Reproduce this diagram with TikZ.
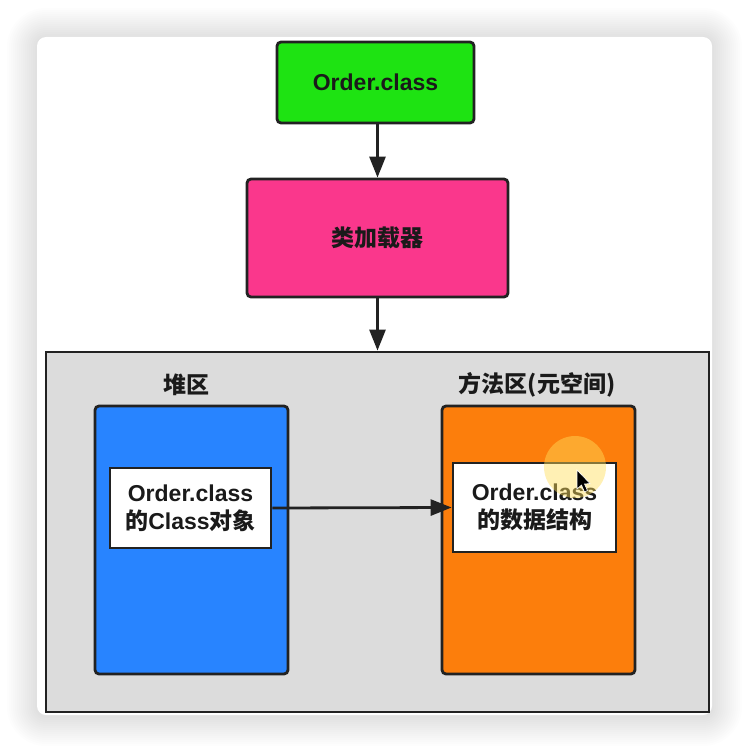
\documentclass[tikz,border=0pt]{standalone}
\usepackage{fontspec}
\setmainfont{Liberation Sans}
\newfontfamily\cjk{Noto Sans CJK SC}
\usetikzlibrary{arrows.meta}
\definecolor{cgreen}{RGB}{30,227,18}
\definecolor{cpink}{RGB}{250,55,140}
\definecolor{cgray}{RGB}{220,220,220}
\definecolor{cblue}{RGB}{40,132,255}
\definecolor{corange}{RGB}{252,126,12}
\definecolor{cline}{RGB}{34,34,34}
\definecolor{ctext}{RGB}{26,26,26}
\definecolor{chl}{RGB}{255,222,90}
\tikzset{
  lbl/.style={font=\fontsize{23}{28}\selectfont\bfseries, text=ctext, align=center, inner sep=0pt},
  box/.style={draw=cline, line width=2.8pt, rounded corners=4pt, inner sep=0pt, lbl},
  wbox/.style={draw=cline, line width=2.8pt, fill=white, inner sep=0pt, lbl},
  conn/.style={draw=cline, line width=2.8pt, -{Triangle[length=21pt,width=16pt]}},
}
\begin{document}
\begin{tikzpicture}[x=1pt,y=-1pt]
\useasboundingbox (0,0) rectangle (748,752);
\fill[white] (0,0) rectangle (748,752);
% card shadow
\foreach \e in {2,4,...,30}{
  \fill[black, opacity=0.006, rounded corners=9pt+\e pt] (37-\e,37-\e+1) rectangle (712+\e,715+\e+1);
}
\fill[white, rounded corners=9pt] (37,37) rectangle (712,715);
% nodes
\node[box, fill=cgreen, minimum width=197pt, minimum height=81pt] (cls) at (375.5,82.5) {Order.class};
\node[box, fill=cpink, minimum width=261pt, minimum height=118pt] (loader) at (377.5,238) {\cjk 类加载器};
\node[draw=cline, line width=2.8pt, fill=cgray, minimum width=663pt, minimum height=360pt] (mem) at (377.5,532) {};
\node[lbl] (heaplbl) at (186,385) {\cjk 堆区};
\node[lbl] (methlbl) at (537,385) {\cjk 方法区(元空间)};
\node[box, fill=cblue, minimum width=193pt, minimum height=268pt] (heap) at (191.5,540) {};
\node[box, fill=corange, minimum width=193pt, minimum height=268pt] (meth) at (538.5,540) {};
\node[wbox, minimum width=161pt, minimum height=80pt] (obj) at (190.5,508) {Order.class\\{\cjk 的}Class{\cjk 对象}};
\node[wbox, minimum width=163pt, minimum height=89pt] (data) at (534.5,507.5) {Order.class\\{\cjk 的数据结构}};
% connectors
\draw[conn] (loader.north |- cls.south) -- (loader.north);
\draw[conn] (loader.south) -- (loader.south |- mem.north);
\draw[conn] (obj.east) -- (data.west);
% cursor highlight
\fill[chl, opacity=0.45] (575,467) circle (31);
\filldraw[fill=black, draw=white, line width=0.6pt] (577,470) -- (577,489) -- (581.5,485) -- (584.5,492) -- (587.5,490.5) -- (584.5,484) -- (590,483.5) -- cycle;
\end{tikzpicture}
\end{document}
